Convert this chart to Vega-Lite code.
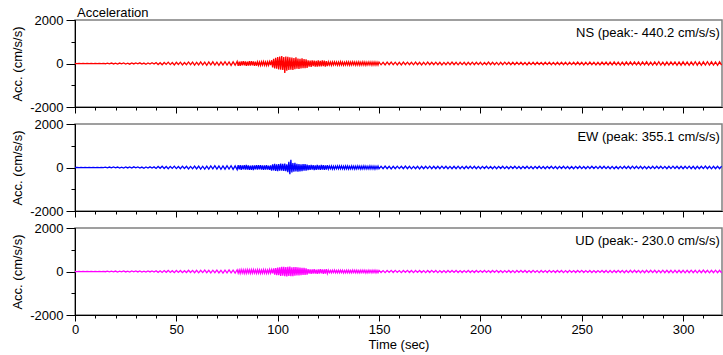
{
"$schema": "https://vega.github.io/schema/vega-lite/v6.json",
"padding": {"left": 11, "top": 6, "right": 0, "bottom": 4},
"background": "white",
"config": {
 "font": "Liberation Sans",
 "view": {"stroke": "#808080", "strokeWidth": 1.5},
 "axis": {"domainColor": "#000000", "tickColor": "#000000", "labelColor": "#000000", "titleColor": "#000000", "labelFontSize": 13, "titleFontSize": 13, "titleFontWeight": "normal", "grid": false, "labelFont": "Liberation Sans", "titleFont": "Liberation Sans", "labelOverlap": false, "labelFlush": false}
},
"datasets": {"w": [
{"t":0,"ns":0,"ew":0,"ud":0},{"t":1,"ns":-2,"ew":2,"ud":-2},{"t":2,"ns":3,"ew":-3,"ud":2},{"t":3,"ns":-3,"ew":3,"ud":-3},{"t":4,"ns":2,"ew":-2,"ud":2},{"t":5,"ns":-4,"ew":4,"ud":-3},{"t":6,"ns":3,"ew":-3,"ud":4},{"t":7,"ns":-2,"ew":2,"ud":-2},{"t":8,"ns":4,"ew":-4,"ud":3},{"t":9,"ns":-3,"ew":3,"ud":-4},
{"t":10,"ns":2,"ew":-2,"ud":2},{"t":11,"ns":-5,"ew":5,"ud":-3},{"t":12,"ns":4,"ew":-4,"ud":4},{"t":13,"ns":-3,"ew":3,"ud":-3},{"t":14,"ns":5,"ew":-5,"ud":4},{"t":15,"ns":-12,"ew":14,"ud":-10},{"t":16,"ns":18,"ew":-16,"ud":14},{"t":17,"ns":-15,"ew":20,"ud":-16},{"t":18,"ns":22,"ew":-18,"ud":18},{"t":19,"ns":-20,"ew":24,"ud":-14},
{"t":20,"ns":14,"ew":-15,"ud":20},{"t":21,"ns":-25,"ew":22,"ud":-22},{"t":22,"ns":20,"ew":-26,"ud":16},{"t":23,"ns":-18,"ew":18,"ud":-18},{"t":24,"ns":28,"ew":-24,"ud":24},{"t":25,"ns":-22,"ew":28,"ud":-20},{"t":26,"ns":16,"ew":-20,"ud":18},{"t":27,"ns":-30,"ew":26,"ud":-26},{"t":28,"ns":24,"ew":-22,"ud":22},{"t":29,"ns":-20,"ew":30,"ud":-16},
{"t":30,"ns":26,"ew":-18,"ud":24},{"t":31,"ns":-18,"ew":24,"ud":-20},{"t":32,"ns":30,"ew":-28,"ud":26},{"t":33,"ns":-25,"ew":20,"ud":-22},{"t":34,"ns":20,"ew":-32,"ud":18},{"t":35,"ns":-32,"ew":26,"ud":-28},{"t":36,"ns":22,"ew":-24,"ud":24},{"t":37,"ns":-28,"ew":30,"ud":-20},{"t":38,"ns":35,"ew":-22,"ud":26},{"t":39,"ns":-24,"ew":28,"ud":-24},
{"t":40,"ns":40,"ew":-42,"ud":36},{"t":41,"ns":-50,"ew":48,"ud":-40},{"t":42,"ns":35,"ew":-38,"ud":32},{"t":43,"ns":-58,"ew":55,"ud":-46},{"t":44,"ns":48,"ew":-46,"ud":42},{"t":45,"ns":-42,"ew":44,"ud":-38},{"t":46,"ns":62,"ew":-58,"ud":50},{"t":47,"ns":-50,"ew":50,"ud":-44},{"t":48,"ns":45,"ew":-42,"ud":36},{"t":49,"ns":-66,"ew":62,"ud":-52},
{"t":50,"ns":55,"ew":-52,"ud":46},{"t":51,"ns":-48,"ew":46,"ud":-40},{"t":52,"ns":60,"ew":-56,"ud":48},{"t":53,"ns":-64,"ew":60,"ud":-52},{"t":54,"ns":45,"ew":-44,"ud":38},{"t":55,"ns":-56,"ew":54,"ud":-48},{"t":56,"ns":70,"ew":-64,"ud":56},{"t":57,"ns":-52,"ew":50,"ud":-44},{"t":58,"ns":62,"ew":-58,"ud":50},{"t":59,"ns":-75,"ew":68,"ud":-58},
{"t":60,"ns":58,"ew":-60,"ud":52},{"t":61,"ns":-68,"ew":66,"ud":-60},{"t":62,"ns":72,"ew":-72,"ud":56},{"t":63,"ns":-60,"ew":58,"ud":-50},{"t":64,"ns":65,"ew":-70,"ud":62},{"t":65,"ns":-80,"ew":64,"ud":-58},{"t":66,"ns":70,"ew":-76,"ud":54},{"t":67,"ns":-62,"ew":70,"ud":-66},{"t":68,"ns":78,"ew":-62,"ud":60},{"t":69,"ns":-70,"ew":80,"ud":-56},
{"t":70,"ns":66,"ew":-74,"ud":68},{"t":71,"ns":-84,"ew":68,"ud":-62},{"t":72,"ns":72,"ew":-82,"ud":58},{"t":73,"ns":-68,"ew":72,"ud":-70},{"t":74,"ns":80,"ew":-78,"ud":64},{"t":75,"ns":-74,"ew":84,"ud":-60},{"t":76,"ns":70,"ew":-70,"ud":72},{"t":77,"ns":-85,"ew":80,"ud":-66},{"t":78,"ns":76,"ew":-86,"ud":62},{"t":79,"ns":-78,"ew":76,"ud":-70},
{"t":80,"ns":95,"ew":-100,"ud":80},
{"t":80.5,"ns":-105,"ew":110,"ud":-75},
{"t":81,"ns":80,"ew":-90,"ud":70},
{"t":81.5,"ns":-110,"ew":105,"ud":-88},
{"t":82,"ns":100,"ew":-112,"ud":85},
{"t":82.5,"ns":-90,"ew":95,"ud":-72},
{"t":83,"ns":108,"ew":-85,"ud":78},
{"t":83.5,"ns":-85,"ew":108,"ud":-90},
{"t":84,"ns":92,"ew":-98,"ud":74},
{"t":84.5,"ns":-112,"ew":115,"ud":-82},
{"t":85,"ns":88,"ew":-92,"ud":88},
{"t":85.5,"ns":-100,"ew":100,"ud":-70},
{"t":86,"ns":105,"ew":-110,"ud":76},
{"t":86.5,"ns":-95,"ew":88,"ud":-85},
{"t":87,"ns":110,"ew":-105,"ud":82},
{"t":87.5,"ns":-80,"ew":96,"ud":-78},
{"t":88,"ns":98,"ew":-115,"ud":90},
{"t":88.5,"ns":-108,"ew":102,"ud":-74},
{"t":89,"ns":90,"ew":-90,"ud":72},
{"t":89.5,"ns":-102,"ew":110,"ud":-86},
{"t":90,"ns":75,"ew":-95,"ud":84},
{"t":90.5,"ns":-82,"ew":104,"ud":-76},
{"t":91,"ns":68,"ew":-88,"ud":80},
{"t":91.5,"ns":-85,"ew":112,"ud":-90},
{"t":92,"ns":80,"ew":-100,"ud":70},
{"t":92.5,"ns":-70,"ew":92,"ud":-82},
{"t":93,"ns":85,"ew":-108,"ud":86},
{"t":93.5,"ns":-78,"ew":98,"ud":-74},
{"t":94,"ns":72,"ew":-94,"ud":78},
{"t":94.5,"ns":-88,"ew":106,"ud":-88},
{"t":95,"ns":76,"ew":-102,"ud":72},
{"t":95.5,"ns":-80,"ew":90,"ud":-80},
{"t":96,"ns":84,"ew":-110,"ud":90},
{"t":96.5,"ns":-74,"ew":100,"ud":-76},
{"t":97,"ns":150,"ew":-140,"ud":82},
{"t":97.5,"ns":-180,"ew":150,"ud":-84},
{"t":98,"ns":210,"ew":-130,"ud":140},
{"t":98.5,"ns":-230,"ew":165,"ud":-150},
{"t":99,"ns":260,"ew":-155,"ud":160},
{"t":99.5,"ns":-240,"ew":140,"ud":-170},
{"t":100,"ns":300,"ew":-170,"ud":180},
{"t":100.5,"ns":-270,"ew":160,"ud":-165},
{"t":101,"ns":320,"ew":-150,"ud":190},
{"t":101.5,"ns":-290,"ew":175,"ud":-200},
{"t":102,"ns":340,"ew":-145,"ud":210},
{"t":102.5,"ns":-300,"ew":170,"ud":-190},
{"t":103,"ns":300,"ew":-160,"ud":220},
{"t":103.5,"ns":-440,"ew":180,"ud":-215},
{"t":104,"ns":320,"ew":-165,"ud":200},
{"t":104.5,"ns":-330,"ew":150,"ud":-230},
{"t":105,"ns":310,"ew":-220,"ud":215},
{"t":105.5,"ns":-300,"ew":260,"ud":-205},
{"t":106,"ns":290,"ew":-310,"ud":225},
{"t":106.5,"ns":-280,"ew":355,"ud":-210},
{"t":107,"ns":270,"ew":-230,"ud":195},
{"t":107.5,"ns":-300,"ew":200,"ud":-220},
{"t":108,"ns":250,"ew":-190,"ud":205},
{"t":108.5,"ns":-260,"ew":210,"ud":-190},
{"t":109,"ns":280,"ew":-180,"ud":200},
{"t":109.5,"ns":-240,"ew":170,"ud":-185},
{"t":110,"ns":230,"ew":-195,"ud":190},
{"t":110.5,"ns":-250,"ew":160,"ud":-175},
{"t":111,"ns":220,"ew":-175,"ud":180},
{"t":111.5,"ns":-230,"ew":150,"ud":-170},
{"t":112,"ns":240,"ew":-165,"ud":165},
{"t":112.5,"ns":-210,"ew":155,"ud":-160},
{"t":113,"ns":200,"ew":-140,"ud":170},
{"t":113.5,"ns":-220,"ew":160,"ud":-155},
{"t":114,"ns":190,"ew":-150,"ud":150},
{"t":114.5,"ns":-200,"ew":135,"ud":-145},
{"t":115,"ns":150,"ew":-120,"ud":110},
{"t":115.5,"ns":-140,"ew":110,"ud":-100},
{"t":116,"ns":130,"ew":-105,"ud":95},
{"t":116.5,"ns":-155,"ew":118,"ud":-108},
{"t":117,"ns":145,"ew":-100,"ud":102},
{"t":117.5,"ns":-125,"ew":112,"ud":-92},
{"t":118,"ns":135,"ew":-115,"ud":105},
{"t":118.5,"ns":-150,"ew":98,"ud":-98},
{"t":119,"ns":120,"ew":-108,"ud":90},
{"t":119.5,"ns":-140,"ew":120,"ud":-110},
{"t":120,"ns":145,"ew":-102,"ud":100},
{"t":120.5,"ns":-130,"ew":95,"ud":-95},
{"t":121,"ns":125,"ew":-110,"ud":108},
{"t":121.5,"ns":-135,"ew":115,"ud":-90},
{"t":122,"ns":140,"ew":-98,"ud":98},
{"t":122.5,"ns":-120,"ew":105,"ud":-104},
{"t":123,"ns":130,"ew":-112,"ud":92},
{"t":123.5,"ns":-145,"ew":100,"ud":-100},
{"t":124,"ns":115,"ew":-95,"ud":106},
{"t":124.5,"ns":-125,"ew":108,"ud":-94},
{"t":125,"ns":75,"ew":-70,"ud":60},
{"t":125.5,"ns":-70,"ew":62,"ud":-55},
{"t":126,"ns":65,"ew":-58,"ud":50},
{"t":126.5,"ns":-80,"ew":72,"ud":-62},
{"t":127,"ns":72,"ew":-66,"ud":58},
{"t":127.5,"ns":-68,"ew":60,"ud":-52},
{"t":128,"ns":78,"ew":-74,"ud":64},
{"t":128.5,"ns":-62,"ew":64,"ud":-56},
{"t":129,"ns":70,"ew":-56,"ud":50},
{"t":129.5,"ns":-76,"ew":70,"ud":-60},
{"t":130,"ns":66,"ew":-62,"ud":54},
{"t":130.5,"ns":-72,"ew":68,"ud":-58},
{"t":131,"ns":80,"ew":-60,"ud":62},
{"t":131.5,"ns":-65,"ew":74,"ud":-50},
{"t":132,"ns":68,"ew":-64,"ud":56},
{"t":132.5,"ns":-74,"ew":58,"ud":-64},
{"t":133,"ns":62,"ew":-72,"ud":52},
{"t":133.5,"ns":-70,"ew":66,"ud":-58},
{"t":134,"ns":76,"ew":-60,"ud":60},
{"t":134.5,"ns":-66,"ew":70,"ud":-54},
{"t":135,"ns":72,"ew":-68,"ud":58},
{"t":135.5,"ns":-78,"ew":56,"ud":-62},
{"t":136,"ns":64,"ew":-62,"ud":50},
{"t":136.5,"ns":-70,"ew":72,"ud":-56},
{"t":137,"ns":74,"ew":-58,"ud":64},
{"t":137.5,"ns":-60,"ew":66,"ud":-52},
{"t":138,"ns":68,"ew":-70,"ud":60},
{"t":138.5,"ns":-75,"ew":60,"ud":-58},
{"t":139,"ns":70,"ew":-64,"ud":54},
{"t":139.5,"ns":-64,"ew":68,"ud":-60},
{"t":140,"ns":78,"ew":-56,"ud":50},
{"t":140.5,"ns":-72,"ew":62,"ud":-62},
{"t":141,"ns":62,"ew":-72,"ud":56},
{"t":141.5,"ns":-68,"ew":58,"ud":-54},
{"t":142,"ns":74,"ew":-66,"ud":60},
{"t":142.5,"ns":-70,"ew":70,"ud":-50},
{"t":143,"ns":66,"ew":-60,"ud":58},
{"t":143.5,"ns":-76,"ew":64,"ud":-64},
{"t":144,"ns":60,"ew":-68,"ud":52},
{"t":144.5,"ns":-65,"ew":55,"ud":-56},
{"t":145,"ns":70,"ew":-62,"ud":62},
{"t":145.5,"ns":-62,"ew":70,"ud":-50},
{"t":146,"ns":68,"ew":-58,"ud":54},
{"t":146.5,"ns":-74,"ew":66,"ud":-60},
{"t":147,"ns":64,"ew":-64,"ud":58},
{"t":147.5,"ns":-70,"ew":60,"ud":-52},
{"t":148,"ns":72,"ew":-70,"ud":56},
{"t":148.5,"ns":-66,"ew":56,"ud":-62},
{"t":149,"ns":60,"ew":-60,"ud":50},
{"t":149.5,"ns":-68,"ew":65,"ud":-55},
{"t":150,"ns":65,"ew":-60,"ud":50},{"t":151,"ns":-60,"ew":56,"ud":-46},{"t":152,"ns":58,"ew":-52,"ud":44},{"t":153,"ns":-66,"ew":62,"ud":-52},{"t":154,"ns":62,"ew":-58,"ud":48},{"t":155,"ns":-55,"ew":54,"ud":-42},{"t":156,"ns":68,"ew":-64,"ud":54},{"t":157,"ns":-58,"ew":52,"ud":-46},{"t":158,"ns":60,"ew":-56,"ud":50},{"t":159,"ns":-64,"ew":60,"ud":-44},
{"t":160,"ns":56,"ew":-50,"ud":42},{"t":161,"ns":-62,"ew":58,"ud":-50},{"t":162,"ns":66,"ew":-54,"ud":46},{"t":163,"ns":-54,"ew":62,"ud":-44},{"t":164,"ns":60,"ew":-52,"ud":52},{"t":165,"ns":-58,"ew":56,"ud":-48},{"t":166,"ns":52,"ew":-60,"ud":44},{"t":167,"ns":-60,"ew":50,"ud":-50},{"t":168,"ns":62,"ew":-58,"ud":46},{"t":169,"ns":-56,"ew":54,"ud":-42},
{"t":170,"ns":58,"ew":-62,"ud":48},{"t":171,"ns":-64,"ew":52,"ud":-46},{"t":172,"ns":54,"ew":-56,"ud":42},{"t":173,"ns":-60,"ew":58,"ud":-50},{"t":174,"ns":62,"ew":-50,"ud":44},{"t":175,"ns":-52,"ew":60,"ud":-48},{"t":176,"ns":58,"ew":-54,"ud":52},{"t":177,"ns":-56,"ew":52,"ud":-42},{"t":178,"ns":60,"ew":-58,"ud":46},{"t":179,"ns":-54,"ew":56,"ud":-50},
{"t":180,"ns":56,"ew":-52,"ud":44},{"t":181,"ns":-62,"ew":60,"ud":-46},{"t":182,"ns":50,"ew":-48,"ud":40},{"t":183,"ns":-58,"ew":56,"ud":-50},{"t":184,"ns":60,"ew":-54,"ud":48},{"t":185,"ns":-52,"ew":50,"ud":-44},{"t":186,"ns":64,"ew":-58,"ud":46},{"t":187,"ns":-56,"ew":54,"ud":-42},{"t":188,"ns":54,"ew":-52,"ud":50},{"t":189,"ns":-60,"ew":60,"ud":-46},
{"t":190,"ns":58,"ew":-56,"ud":42},{"t":191,"ns":-50,"ew":50,"ud":-48},{"t":192,"ns":56,"ew":-54,"ud":44},{"t":193,"ns":-62,"ew":58,"ud":-40},{"t":194,"ns":52,"ew":-48,"ud":50},{"t":195,"ns":-58,"ew":56,"ud":-46},{"t":196,"ns":60,"ew":-52,"ud":42},{"t":197,"ns":-54,"ew":54,"ud":-48},{"t":198,"ns":56,"ew":-58,"ud":46},{"t":199,"ns":-52,"ew":50,"ud":-44},
{"t":200,"ns":55,"ew":-54,"ud":45},{"t":201,"ns":-60,"ew":50,"ud":-40},{"t":202,"ns":48,"ew":-46,"ud":50},{"t":203,"ns":-56,"ew":56,"ud":-44},{"t":204,"ns":62,"ew":-52,"ud":42},{"t":205,"ns":-52,"ew":48,"ud":-48},{"t":206,"ns":58,"ew":-58,"ud":46},{"t":207,"ns":-54,"ew":50,"ud":-40},{"t":208,"ns":50,"ew":-54,"ud":52},{"t":209,"ns":-60,"ew":52,"ud":-45},
{"t":210,"ns":56,"ew":-48,"ud":40},{"t":211,"ns":-52,"ew":56,"ud":-50},{"t":212,"ns":60,"ew":-50,"ud":44},{"t":213,"ns":-48,"ew":46,"ud":-42},{"t":214,"ns":54,"ew":-58,"ud":48},{"t":215,"ns":-58,"ew":52,"ud":-46},{"t":216,"ns":52,"ew":-46,"ud":40},{"t":217,"ns":-56,"ew":54,"ud":-52},{"t":218,"ns":60,"ew":-50,"ud":45},{"t":219,"ns":-50,"ew":48,"ud":-44},
{"t":220,"ns":58,"ew":-56,"ud":50},{"t":221,"ns":-54,"ew":52,"ud":-40},{"t":222,"ns":50,"ew":-45,"ud":46},{"t":223,"ns":-62,"ew":58,"ud":-48},{"t":224,"ns":56,"ew":-50,"ud":42},{"t":225,"ns":-52,"ew":46,"ud":-45},{"t":226,"ns":54,"ew":-54,"ud":52},{"t":227,"ns":-58,"ew":50,"ud":-40},{"t":228,"ns":60,"ew":-48,"ud":44},{"t":229,"ns":-48,"ew":56,"ud":-50},
{"t":230,"ns":52,"ew":-52,"ud":46},{"t":231,"ns":-56,"ew":45,"ud":-42},{"t":232,"ns":58,"ew":-58,"ud":40},{"t":233,"ns":-50,"ew":50,"ud":-48},{"t":234,"ns":62,"ew":-46,"ud":50},{"t":235,"ns":-54,"ew":54,"ud":-44},{"t":236,"ns":50,"ew":-50,"ud":42},{"t":237,"ns":-58,"ew":48,"ud":-46},{"t":238,"ns":56,"ew":-55,"ud":48},{"t":239,"ns":-52,"ew":52,"ud":-40},
{"t":240,"ns":60,"ew":-45,"ud":45},{"t":241,"ns":-56,"ew":56,"ud":-52},{"t":242,"ns":52,"ew":-50,"ud":40},{"t":243,"ns":-60,"ew":48,"ud":-46},{"t":244,"ns":54,"ew":-54,"ud":50},{"t":245,"ns":-50,"ew":46,"ud":-44},{"t":246,"ns":58,"ew":-58,"ud":42},{"t":247,"ns":-54,"ew":50,"ud":-48},{"t":248,"ns":62,"ew":-48,"ud":46},{"t":249,"ns":-56,"ew":55,"ud":-40},
{"t":250,"ns":58,"ew":-52,"ud":52},{"t":251,"ns":-62,"ew":46,"ud":-45},{"t":252,"ns":54,"ew":-56,"ud":44},{"t":253,"ns":-60,"ew":50,"ud":-42},{"t":254,"ns":64,"ew":-48,"ud":48},{"t":255,"ns":-56,"ew":54,"ud":-50},{"t":256,"ns":60,"ew":-46,"ud":40},{"t":257,"ns":-66,"ew":52,"ud":-46},{"t":258,"ns":58,"ew":-50,"ud":44},{"t":259,"ns":-62,"ew":58,"ud":-42},
{"t":260,"ns":66,"ew":-48,"ud":50},{"t":261,"ns":-58,"ew":55,"ud":-48},{"t":262,"ns":62,"ew":-52,"ud":46},{"t":263,"ns":-68,"ew":46,"ud":-52},{"t":264,"ns":60,"ew":-56,"ud":44},{"t":265,"ns":-64,"ew":50,"ud":-50},{"t":266,"ns":70,"ew":-54,"ud":48},{"t":267,"ns":-60,"ew":48,"ud":-46},{"t":268,"ns":66,"ew":-58,"ud":52},{"t":269,"ns":-72,"ew":52,"ud":-44},
{"t":270,"ns":62,"ew":-50,"ud":50},{"t":271,"ns":-68,"ew":56,"ud":-54},{"t":272,"ns":74,"ew":-46,"ud":48},{"t":273,"ns":-64,"ew":54,"ud":-52},{"t":274,"ns":70,"ew":-52,"ud":56},{"t":275,"ns":-66,"ew":60,"ud":-50},{"t":276,"ns":76,"ew":-48,"ud":54},{"t":277,"ns":-62,"ew":55,"ud":-48},{"t":278,"ns":68,"ew":-50,"ud":52},{"t":279,"ns":-74,"ew":58,"ud":-56},
{"t":280,"ns":72,"ew":-54,"ud":50},{"t":281,"ns":-66,"ew":50,"ud":-58},{"t":282,"ns":78,"ew":-56,"ud":54},{"t":283,"ns":-70,"ew":48,"ud":-52},{"t":284,"ns":64,"ew":-52,"ud":56},{"t":285,"ns":-76,"ew":58,"ud":-50},{"t":286,"ns":70,"ew":-50,"ud":58},{"t":287,"ns":-68,"ew":54,"ud":-54},{"t":288,"ns":80,"ew":-48,"ud":52},{"t":289,"ns":-72,"ew":56,"ud":-56},
{"t":290,"ns":66,"ew":-52,"ud":60},{"t":291,"ns":-78,"ew":50,"ud":-52},{"t":292,"ns":72,"ew":-58,"ud":56},{"t":293,"ns":-70,"ew":54,"ud":-58},{"t":294,"ns":76,"ew":-50,"ud":54},{"t":295,"ns":-64,"ew":60,"ud":-60},{"t":296,"ns":74,"ew":-48,"ud":52},{"t":297,"ns":-80,"ew":56,"ud":-56},{"t":298,"ns":70,"ew":-54,"ud":58},{"t":299,"ns":-76,"ew":52,"ud":-54},
{"t":300,"ns":78,"ew":-58,"ud":56},{"t":301,"ns":-70,"ew":54,"ud":-60},{"t":302,"ns":72,"ew":-50,"ud":58},{"t":303,"ns":-82,"ew":60,"ud":-52},{"t":304,"ns":74,"ew":-56,"ud":60},{"t":305,"ns":-68,"ew":52,"ud":-56},{"t":306,"ns":80,"ew":-62,"ud":54},{"t":307,"ns":-76,"ew":56,"ud":-60},{"t":308,"ns":70,"ew":-54,"ud":52},{"t":309,"ns":-84,"ew":58,"ud":-58},
{"t":310,"ns":76,"ew":-50,"ud":62},{"t":311,"ns":-72,"ew":62,"ud":-54},{"t":312,"ns":82,"ew":-56,"ud":56},{"t":313,"ns":-68,"ew":52,"ud":-60},{"t":314,"ns":78,"ew":-60,"ud":58},{"t":315,"ns":-74,"ew":54,"ud":-52},{"t":316,"ns":70,"ew":-58,"ud":60},{"t":317,"ns":-80,"ew":56,"ud":-55},{"t":318,"ns":76,"ew":-52,"ud":56},{"t":319,"ns":-72,"ew":60,"ud":-58}
]},
"spacing": 17,
"bounds": "flush",
"vconcat": [
 {
  "width": 647, "height": 87,
  "title": {"text": "Acceleration", "anchor": "start", "frame": "group", "fontSize": 13, "fontWeight": "normal", "font": "Liberation Sans", "color": "#000000", "offset": -6, "dx": 2},
  "resolve": {"axis": {"x": "independent", "y": "independent"}},
  "layer": [
   {"data": {"name": "w"},
    "mark": {"type": "line", "color": "#ff0000", "strokeWidth": 1.3, "clip": true},
    "encoding": {
     "x": {"field": "t", "type": "quantitative", "scale": {"domain": [0, 319.2], "nice": false, "zero": false},
           "axis": {"orient": "bottom", "values": [0,10,20,30,40,60,70,80,90,110,120,130,140,160,170,180,190,210,220,230,240,260,270,280,290,310], "labels": false, "title": null, "tickSize": 3}},
     "y": {"field": "ns", "type": "quantitative", "scale": {"domain": [-2000, 2000], "nice": false},
           "axis": {"orient": "left", "values": [-1000,1000], "labels": false, "title": null, "tickSize": 4}}
    }},
   {"data": {"values": [{"label": "NS (peak:- 440.2 cm/s/s)"}]},
    "mark": {"type": "text", "align": "right", "baseline": "middle", "fontSize": 13, "font": "Liberation Sans", "color": "#000000"},
    "encoding": {
     "x": {"datum": 318.1, "type": "quantitative", "axis": {"orient": "bottom", "values": [0,50,100,150,200,250,300], "labels": false, "title": null, "tickSize": 6}},
     "y": {"datum": 1425, "type": "quantitative", "axis": {"orient": "left", "values": [-2000,0,2000], "labelExpr": "toString(datum.value)", "title": "Acc. (cm/s/s)", "tickSize": 9, "labelPadding": 3, "titlePadding": 5}},
     "text": {"field": "label"}}}
  ]
 },
 {
  "width": 647, "height": 87,
  "resolve": {"axis": {"x": "independent", "y": "independent"}},
  "layer": [
   {"data": {"name": "w"},
    "mark": {"type": "line", "color": "#0000ff", "strokeWidth": 1.3, "clip": true},
    "encoding": {
     "x": {"field": "t", "type": "quantitative", "scale": {"domain": [0, 319.2], "nice": false, "zero": false},
           "axis": {"orient": "bottom", "values": [0,10,20,30,40,60,70,80,90,110,120,130,140,160,170,180,190,210,220,230,240,260,270,280,290,310], "labels": false, "title": null, "tickSize": 3}},
     "y": {"field": "ew", "type": "quantitative", "scale": {"domain": [-2000, 2000], "nice": false},
           "axis": {"orient": "left", "values": [-1000,1000], "labels": false, "title": null, "tickSize": 4}}
    }},
   {"data": {"values": [{"label": "EW (peak: 355.1 cm/s/s)"}]},
    "mark": {"type": "text", "align": "right", "baseline": "middle", "fontSize": 13, "font": "Liberation Sans", "color": "#000000"},
    "encoding": {
     "x": {"datum": 318.1, "type": "quantitative", "axis": {"orient": "bottom", "values": [0,50,100,150,200,250,300], "labels": false, "title": null, "tickSize": 6}},
     "y": {"datum": 1425, "type": "quantitative", "axis": {"orient": "left", "values": [-2000,0,2000], "labelExpr": "toString(datum.value)", "title": "Acc. (cm/s/s)", "tickSize": 9, "labelPadding": 3, "titlePadding": 5}},
     "text": {"field": "label"}}}
  ]
 },
 {
  "width": 647, "height": 87,
  "resolve": {"axis": {"x": "independent", "y": "independent"}},
  "layer": [
   {"data": {"name": "w"},
    "mark": {"type": "line", "color": "#ff00ff", "strokeWidth": 1.3, "clip": true},
    "encoding": {
     "x": {"field": "t", "type": "quantitative", "scale": {"domain": [0, 319.2], "nice": false, "zero": false},
           "axis": {"orient": "bottom", "values": [0,10,20,30,40,60,70,80,90,110,120,130,140,160,170,180,190,210,220,230,240,260,270,280,290,310], "labels": false, "title": null, "tickSize": 3}},
     "y": {"field": "ud", "type": "quantitative", "scale": {"domain": [-2000, 2000], "nice": false},
           "axis": {"orient": "left", "values": [-1000,1000], "labels": false, "title": null, "tickSize": 4}}
    }},
   {"data": {"values": [{"label": "UD (peak:- 230.0 cm/s/s)"}]},
    "mark": {"type": "text", "align": "right", "baseline": "middle", "fontSize": 13, "font": "Liberation Sans", "color": "#000000"},
    "encoding": {
     "x": {"datum": 318.1, "type": "quantitative", "axis": {"orient": "bottom", "values": [0,50,100,150,200,250,300], "labelExpr": "toString(datum.value)", "title": "Time (sec)", "tickSize": 6, "labelPadding": 2, "titlePadding": 2}},
     "y": {"datum": 1425, "type": "quantitative", "axis": {"orient": "left", "values": [-2000,0,2000], "labelExpr": "toString(datum.value)", "title": "Acc. (cm/s/s)", "tickSize": 9, "labelPadding": 3, "titlePadding": 5}},
     "text": {"field": "label"}}}
  ]
 }
]
}
